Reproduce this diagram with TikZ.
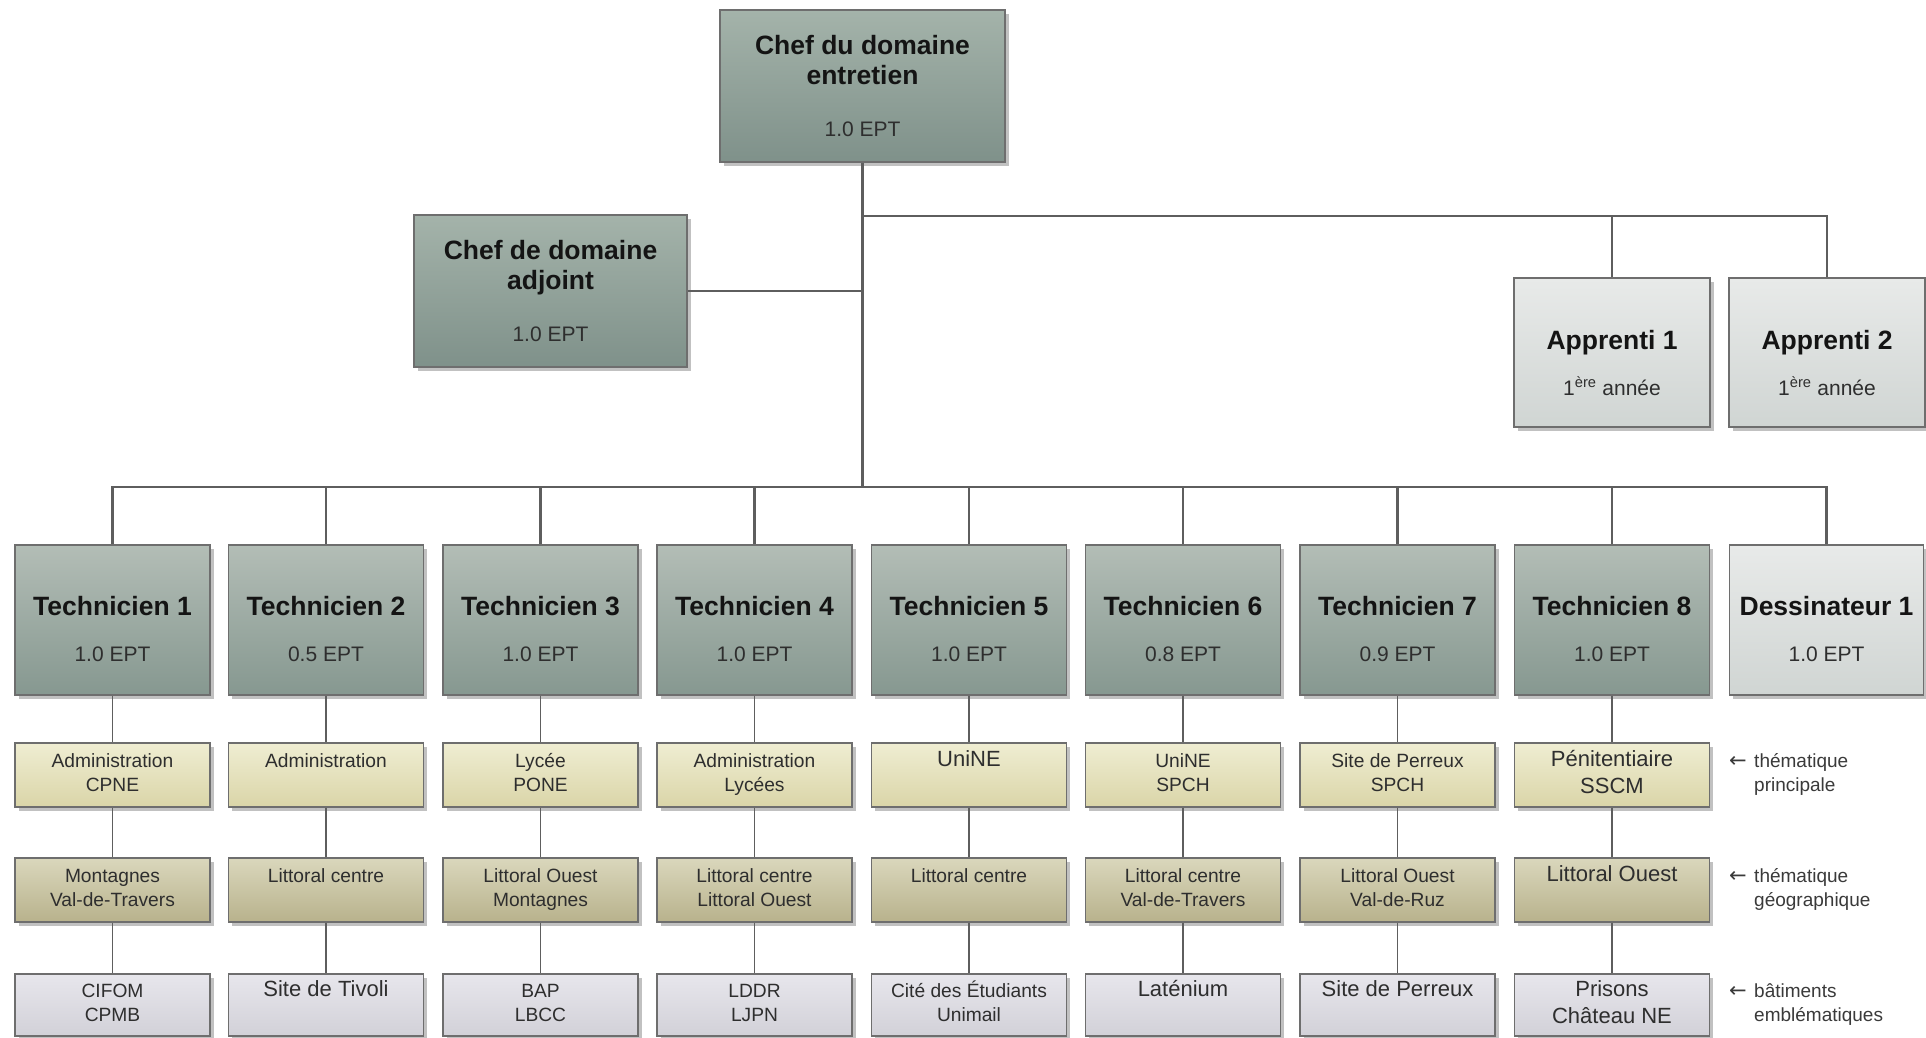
\documentclass[tikz,border=0pt]{standalone}
\usepackage{fontspec}
\setmainfont{Liberation Sans}
\newfontfamily\arrowfont{DejaVu Sans}
\usetikzlibrary{shadows}
\definecolor{bline}{HTML}{6E6E6E}
\definecolor{cheftop}{HTML}{A4B3AA}
\definecolor{chefbot}{HTML}{7F918A}
\definecolor{techtop}{HTML}{B3BDB6}
\definecolor{techbot}{HTML}{869890}
\definecolor{lighttop}{HTML}{E8EAE9}
\definecolor{lightbot}{HTML}{D0D5D3}
\definecolor{thtop}{HTML}{EFEDD2}
\definecolor{thbot}{HTML}{DAD5A8}
\definecolor{geotop}{HTML}{DAD7BC}
\definecolor{geobot}{HTML}{B8B28C}
\definecolor{bldtop}{HTML}{E7E6EC}
\definecolor{bldbot}{HTML}{D2D1D8}
\definecolor{connc}{HTML}{5E5E5E}
\definecolor{titletxt}{HTML}{141414}
\definecolor{subtxt}{HTML}{2E2E2E}
\definecolor{annoc}{HTML}{3A3A3A}
\newcommand\boxtitle{\fontsize{26.5}{30}\selectfont\bfseries\color{titletxt}}
\newcommand\boxsub{\fontsize{21}{30}\selectfont\mdseries\color{subtxt}}
\newcommand\smalltxt{\fontsize{19.2}{24}\selectfont}
\newcommand\bigtxt{\fontsize{22}{27}\selectfont}
\newcommand\annotxt{\fontsize{19}{24}\selectfont}
\newcommand\twol[2]{#1\strut\\#2\strut}
\begin{document}
\begin{tikzpicture}[x=1pt,y=-1pt,
  every node/.style={inner sep=0pt, align=center},
  box/.style={rectangle, draw=bline, line width=1.1pt, text=subtxt,
    drop shadow={shadow xshift=3.5pt, shadow yshift=-3.5pt, fill=black!60, opacity=.4}},
  chefbox/.style={box, top color=cheftop, bottom color=chefbot, minimum height=152pt, font=\boxsub},
  techbox/.style={box, top color=techtop, bottom color=techbot, minimum width=195pt, minimum height=150pt, font=\boxsub},
  lightbox/.style={box, top color=lighttop, bottom color=lightbot, minimum width=196pt, minimum height=149pt, font=\boxsub},
  themebox/.style={box, top color=thtop, bottom color=thbot, minimum width=195pt, minimum height=64pt, font=\smalltxt},
  geobox/.style={box, top color=geotop, bottom color=geobot, minimum width=195pt, minimum height=64pt, font=\smalltxt},
  bldbox/.style={box, top color=bldtop, bottom color=bldbot, minimum width=195pt, minimum height=62pt, font=\smalltxt},
  big/.style={font=\bigtxt},
  conn/.style={draw=connc, line width=1.5pt},
  trunk/.style={draw=connc, line width=2.2pt},
  anno/.style={anchor=west, align=left, font=\annotxt, text=annoc}
]
\fill[white] (0,0) rectangle (1926,1037);
\useasboundingbox (0,0) rectangle (1926,1037);

% top
\node[chefbox, minimum width=285pt] (chef) at (862.5,86)
  {\boxtitle Chef du domaine\\\boxtitle entretien\\[22pt]\boxsub 1.0 EPT};
\node[chefbox, minimum width=273pt] (adj) at (550.5,291)
  {\boxtitle Chef de domaine\\\boxtitle adjoint\\[22pt]\boxsub 1.0 EPT};
\node[lightbox] (ap1) at (1612,352.5)
  {\boxtitle\rule{0pt}{40pt}Apprenti 1\\[16pt]\boxsub 1\textsuperscript{ère} année};
\node[lightbox] (ap2) at (1827,352.5)
  {\boxtitle\rule{0pt}{40pt}Apprenti 2\\[16pt]\boxsub 1\textsuperscript{ère} année};

% technicians
\node[techbox] (t1) at (112.5,620) {\boxtitle\rule{0pt}{37pt}Technicien 1\\[16pt]\boxsub 1.0 EPT};
\node[techbox] (t2) at (326,620) {\boxtitle\rule{0pt}{37pt}Technicien 2\\[16pt]\boxsub 0.5 EPT};
\node[techbox] (t3) at (540.5,620) {\boxtitle\rule{0pt}{37pt}Technicien 3\\[16pt]\boxsub 1.0 EPT};
\node[techbox] (t4) at (754.5,620) {\boxtitle\rule{0pt}{37pt}Technicien 4\\[16pt]\boxsub 1.0 EPT};
\node[techbox] (t5) at (969,620) {\boxtitle\rule{0pt}{37pt}Technicien 5\\[16pt]\boxsub 1.0 EPT};
\node[techbox] (t6) at (1183,620) {\boxtitle\rule{0pt}{37pt}Technicien 6\\[16pt]\boxsub 0.8 EPT};
\node[techbox] (t7) at (1397.5,620) {\boxtitle\rule{0pt}{37pt}Technicien 7\\[16pt]\boxsub 0.9 EPT};
\node[techbox] (t8) at (1612,620) {\boxtitle\rule{0pt}{37pt}Technicien 8\\[16pt]\boxsub 1.0 EPT};
\node[lightbox, minimum width=194pt, minimum height=150pt] (t9) at (1826.5,620) {\boxtitle\rule{0pt}{37pt}Dessinateur 1\\[16pt]\boxsub 1.0 EPT};

% thematique principale
\node[themebox] (a1) at (112.5,775) {\twol{Administration}{CPNE}};
\node[themebox] (a2) at (326,775) {\twol{Administration}{}};
\node[themebox] (a3) at (540.5,775) {\twol{Lycée}{PONE}};
\node[themebox] (a4) at (754.5,775) {\twol{Administration}{Lycées}};
\node[themebox, big] (a5) at (969,775) {\twol{UniNE}{}};
\node[themebox] (a6) at (1183,775) {\twol{UniNE}{SPCH}};
\node[themebox] (a7) at (1397.5,775) {\twol{Site de Perreux}{SPCH}};
\node[themebox, big] (a8) at (1612,775) {\twol{Pénitentiaire}{SSCM}};

% thematique geographique
\node[geobox] (b1) at (112.5,890) {\twol{Montagnes}{Val-de-Travers}};
\node[geobox] (b2) at (326,890) {\twol{Littoral centre}{}};
\node[geobox] (b3) at (540.5,890) {\twol{Littoral Ouest}{Montagnes}};
\node[geobox] (b4) at (754.5,890) {\twol{Littoral centre}{Littoral Ouest}};
\node[geobox] (b5) at (969,890) {\twol{Littoral centre}{}};
\node[geobox] (b6) at (1183,890) {\twol{Littoral centre}{Val-de-Travers}};
\node[geobox] (b7) at (1397.5,890) {\twol{Littoral Ouest}{Val-de-Ruz}};
\node[geobox, big] (b8) at (1612,890) {\twol{Littoral Ouest}{}};

% batiments
\node[bldbox] (c1) at (112.5,1005) {\twol{CIFOM}{CPMB}};
\node[bldbox, big] (c2) at (326,1005) {\twol{Site de Tivoli}{}};
\node[bldbox] (c3) at (540.5,1005) {\twol{BAP}{LBCC}};
\node[bldbox] (c4) at (754.5,1005) {\twol{LDDR}{LJPN}};
\node[bldbox] (c5) at (969,1005) {\twol{Cité des Étudiants}{Unimail}};
\node[bldbox, big] (c6) at (1183,1005) {\twol{Laténium}{}};
\node[bldbox, big] (c7) at (1397.5,1005) {\twol{Site de Perreux}{}};
\node[bldbox, big] (c8) at (1612,1005) {\twol{Prisons}{Château NE}};

% annotations
\node[anno] (n1) at (1729,775) {\makebox[25pt][l]{\arrowfont\fontsize{21}{24}\selectfont ←}thématique\strut\\\hspace*{25pt}principale\strut};
\node[anno] (n2) at (1729,890) {\makebox[25pt][l]{\arrowfont\fontsize{21}{24}\selectfont ←}thématique\strut\\\hspace*{25pt}géographique\strut};
\node[anno] (n3) at (1729,1005) {\makebox[25pt][l]{\arrowfont\fontsize{21}{24}\selectfont ←}bâtiments\strut\\\hspace*{25pt}emblématiques\strut};

% connectors
\coordinate (hub) at (862.5,487);
\coordinate (ahub) at (862.5,216);
\draw[trunk] (chef.south) -- (hub);
\draw[conn] (adj.east) -- (adj.east -| chef.south);
\draw[conn] (ap1.north) |- (ahub);
\draw[conn] (ap2.north) |- (ahub);
\foreach \i in {1,...,9} { \draw[trunk] (t\i.north) |- (hub); }
\foreach \i in {1,...,8} {
  \draw[conn] (t\i.south) -- (a\i.north);
  \draw[conn] (a\i.south) -- (b\i.north);
  \draw[conn] (b\i.south) -- (c\i.north);
}
\end{tikzpicture}
\end{document}
